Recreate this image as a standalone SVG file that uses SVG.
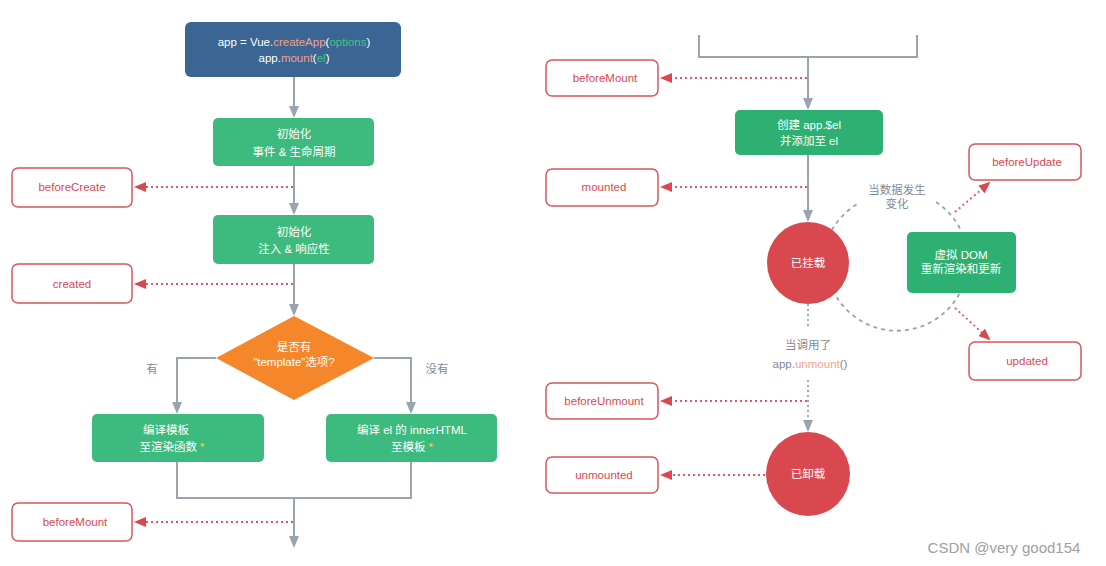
<svg xmlns="http://www.w3.org/2000/svg" width="1106" height="566" viewBox="0 0 1106 566">
<style>
text{font-family:"Liberation Sans","Noto Sans CJK SC",sans-serif;font-size:11.5px;text-anchor:middle}
.w{fill:#fff}
.g{fill:#3dba7e}
.hook rect{fill:#fff;stroke:#d9565c;stroke-width:1.5}
.hook text{fill:#d9484f}
.flow{fill:none;stroke:#9aa4ae;stroke-width:2}
.dot{fill:none;stroke:#e0575e;stroke-width:1.8;stroke-dasharray:2 3}
.gdot{fill:none;stroke:#9aa4ae;stroke-width:1.8;stroke-dasharray:2 3}
.gdash{fill:none;stroke:#9aa4ae;stroke-width:1.8;stroke-dasharray:4 4}
.lbl{fill:#7f8a94}
.sal{fill:#f3a38c}
.grn{fill:#44c489}
.star{fill:#f3d35a}
</style>
<defs>
<marker id="ga" markerWidth="12" markerHeight="10" refX="10" refY="5" orient="auto" markerUnits="userSpaceOnUse"><path d="M0,0 L12,5 L0,10 Z" fill="#9aa4ae"/></marker>
<marker id="ra" markerWidth="12" markerHeight="10" refX="10" refY="5" orient="auto" markerUnits="userSpaceOnUse"><path d="M0,0 L12,5 L0,10 Z" fill="#d9484f"/></marker>
</defs>
<rect width="1106" height="566" fill="#fff"/>
<g id="connectors">
<line class="flow" x1="294" y1="77" x2="294" y2="116" marker-end="url(#ga)"/>
<line class="flow" x1="294" y1="166" x2="294" y2="213" marker-end="url(#ga)"/>
<line class="flow" x1="294" y1="264" x2="294" y2="314" marker-end="url(#ga)"/>
<polyline class="flow" points="216,358 177,358 177,412" marker-end="url(#ga)"/>
<polyline class="flow" points="374,358 411,358 411,412" marker-end="url(#ga)"/>
<polyline class="flow" points="177,462 177,498 411,498 411,462"/>
<line class="flow" x1="294" y1="498" x2="294" y2="546" marker-end="url(#ga)"/>
<line class="dot" x1="293" y1="187" x2="136" y2="187" marker-end="url(#ra)"/>
<line class="dot" x1="293" y1="284" x2="136" y2="284" marker-end="url(#ra)"/>
<line class="dot" x1="293" y1="522" x2="136" y2="522" marker-end="url(#ra)"/>
<polyline class="flow" points="699,35 699,57 917,57 917,35"/>
<line class="flow" x1="808" y1="57" x2="808" y2="108" marker-end="url(#ga)"/>
<line class="flow" x1="808" y1="155" x2="808" y2="220" marker-end="url(#ga)"/>
<line class="dot" x1="807" y1="78" x2="662" y2="78" marker-end="url(#ra)"/>
<line class="dot" x1="807" y1="187" x2="662" y2="187" marker-end="url(#ra)"/>
<path class="gdash" d="M 856.6 204.4 A 71 71 0 0 0 832 230"/>
<path class="gdash" d="M 936 202 A 71 71 0 0 1 968 262 A 71 71 0 0 1 836 296"/>
<line class="dot" x1="955" y1="212" x2="989" y2="183" marker-end="url(#ra)"/>
<line class="dot" x1="955" y1="308" x2="989" y2="339" marker-end="url(#ra)"/>
<line class="gdot" x1="808" y1="304" x2="808" y2="326"/>
<line class="gdot" x1="808" y1="380" x2="808" y2="430" marker-end="url(#ga)"/>
<line class="dot" x1="807" y1="401" x2="662" y2="401" marker-end="url(#ra)"/>
<line class="dot" x1="765" y1="475" x2="662" y2="475" marker-end="url(#ra)"/>
</g>
<g id="start">
<rect x="185" y="22" width="216" height="55" rx="6" fill="#3b6592"/>
<text x="294" y="46" class="w">app = Vue.<tspan class="sal">createApp</tspan>(<tspan class="grn">options</tspan>)</text>
<text x="294" y="62" class="w">app.<tspan class="sal">mount</tspan>(<tspan class="grn">el</tspan>)</text>
</g>
<g id="init-events">
<rect x="213" y="118" width="161" height="48" rx="5" class="g"/>
<text x="294" y="138" class="w">初始化</text>
<text x="294" y="156" class="w">事件 &amp; 生命周期</text>
</g>
<g id="beforeCreate" class="hook"><rect x="12" y="168" width="120" height="39" rx="6"/><text x="72" y="191">beforeCreate</text></g>
<g id="init-inject">
<rect x="213" y="215" width="161" height="49" rx="5" class="g"/>
<text x="294" y="236" class="w">初始化</text>
<text x="294" y="253" class="w">注入 &amp; 响应性</text>
</g>
<g id="created" class="hook"><rect x="12" y="264" width="120" height="39" rx="6"/><text x="72" y="288">created</text></g>
<g id="decision">
<polygon points="294,316 374,358 294,400 216,358" fill="#f6862a"/>
<text x="294" y="351" class="w">是否有</text>
<text x="294" y="366" class="w">“template”选项?</text>
</g>
<text x="152" y="373" class="lbl">有</text>
<text x="437" y="373" class="lbl">没有</text>
<g id="compile-render">
<rect x="92" y="414" width="172" height="48" rx="5" class="g"/>
<text x="166" y="434" class="w">编译模板</text>
<text x="172" y="451" class="w">至渲染函数 <tspan class="star">*</tspan></text>
</g>
<g id="compile-el">
<rect x="326" y="414" width="171" height="48" rx="5" class="g"/>
<text x="412" y="434" class="w">编译 el 的 innerHTML</text>
<text x="412" y="451" class="w">至模板 <tspan class="star">*</tspan></text>
</g>
<g id="beforeMount-left" class="hook"><rect x="12" y="503" width="120" height="38" rx="6"/><text x="75" y="526">beforeMount</text></g>
<g id="beforeMount" class="hook"><rect x="546" y="60" width="112" height="36" rx="6"/><text x="605" y="82">beforeMount</text></g>
<g id="create-el">
<rect x="735" y="110" width="148" height="45" rx="5" fill="#2fb073"/>
<text x="809" y="129" class="w">创建 app.$el</text>
<text x="809" y="145" class="w">并添加至 el</text>
</g>
<g id="mounted" class="hook"><rect x="546" y="169" width="112" height="37" rx="6"/><text x="604" y="191">mounted</text></g>
<g id="mounted-state">
<circle cx="808" cy="263" r="41" fill="#d9484f"/>
<text x="808" y="267" class="w">已挂载</text>
</g>
<text x="897" y="194" class="lbl">当数据发生</text>
<text x="897" y="208" class="lbl">变化</text>
<g id="vdom">
<rect x="907" y="232" width="109" height="61" rx="5" fill="#2fb073"/>
<text x="961" y="259" class="w">虚拟 DOM</text>
<text x="961" y="273" class="w">重新渲染和更新</text>
</g>
<g id="beforeUpdate" class="hook"><rect x="969" y="144" width="112" height="36" rx="6"/><text x="1027" y="166">beforeUpdate</text></g>
<g id="updated" class="hook"><rect x="969" y="342" width="112" height="38" rx="6"/><text x="1027" y="365">updated</text></g>
<text x="808" y="349" class="lbl">当调用了</text>
<text x="810" y="368" class="lbl">app.<tspan class="sal">unmount</tspan>()</text>
<g id="beforeUnmount" class="hook"><rect x="546" y="383" width="112" height="36" rx="6"/><text x="604" y="405">beforeUnmount</text></g>
<g id="unmounted-state">
<circle cx="808" cy="474" r="42" fill="#d9484f"/>
<text x="808" y="478" class="w">已卸载</text>
</g>
<g id="unmounted" class="hook"><rect x="546" y="457" width="112" height="36" rx="6"/><text x="604" y="479">unmounted</text></g>
<text x="1004" y="553" style="font-size:15px;fill:#a0a0a0">CSDN @very good154</text>
</svg>
